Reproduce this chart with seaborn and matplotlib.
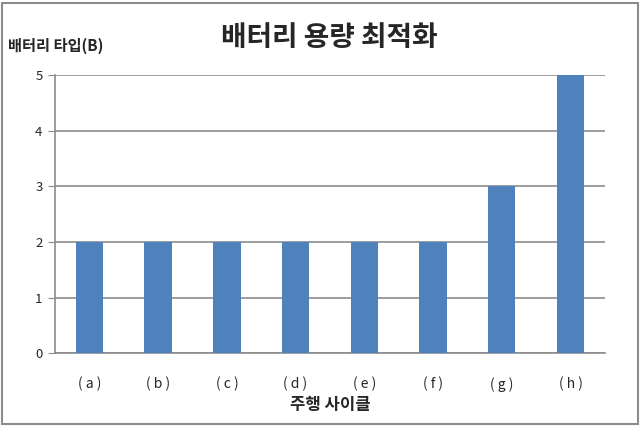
import matplotlib
matplotlib.use("Agg")
import matplotlib.pyplot as plt
import seaborn as sns
import pandas as pd
from matplotlib.patches import Rectangle

# data
cycles = ["( a )", "( b )", "( c )", "( d )", "( e )", "( f )", "( g )", "( h )"]
battery_type = [2, 2, 2, 2, 2, 2, 3, 5]

df = pd.DataFrame({"cycle": cycles, "battery": battery_type})

sns.set_style("white")
plt.rcParams["font.family"] = ["Noto Sans CJK KR", "DejaVu Sans"]

fig = plt.figure(figsize=(6.4, 4.26), dpi=100)
ax = fig.add_axes([0.086, 0.171, 0.859, 0.653])

sns.barplot(data=df, x="cycle", y="battery", color="#4F81BD", width=0.4,
            saturation=1, linewidth=0, ax=ax, zorder=3)

ax.set_ylim(0, 5)
ax.set_yticks(range(0, 6))
ax.set_xlim(-0.5, len(cycles) - 0.5)
ax.yaxis.grid(True, color="#8C8C8C", linewidth=1.2, zorder=0)
ax.set_axisbelow(True)

for s in ["top", "right"]:
    ax.spines[s].set_visible(False)
ax.spines["left"].set_color("#8C8C8C")
ax.spines["bottom"].set_color("#8C8C8C")
ax.spines["left"].set_linewidth(1.2)
ax.spines["bottom"].set_linewidth(1.2)

ax.tick_params(axis="y", direction="out", length=5, color="#8C8C8C",
               labelsize=9.5, pad=4, left=True)
ax.tick_params(axis="x", length=0, labelsize=10, pad=17)

ax.set_xlabel("주행 사이클", fontsize=12, fontweight="bold", labelpad=3)
ax.set_ylabel("")

fig.text(0.515, 0.91, "배터리 용량 최적화", fontsize=20, fontweight="bold",
         ha="center", va="center")
fig.text(0.012, 0.893, "배터리 타입(B)", fontsize=11, fontweight="bold",
         ha="left", va="center")

# outer frame like the spreadsheet chart area
fig.patches.append(Rectangle((0.003, 0.004), 0.994, 0.99, transform=fig.transFigure,
                             fill=False, edgecolor="#8C8C8C", linewidth=1.5))

fig.savefig("out.png", dpi=100)
